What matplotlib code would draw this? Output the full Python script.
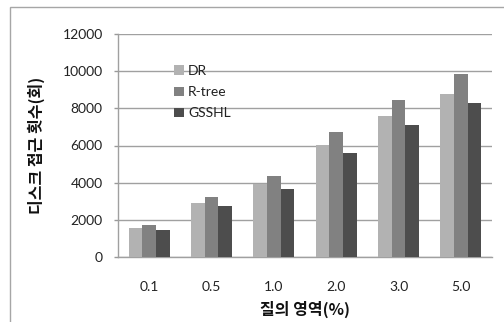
import matplotlib
matplotlib.use("Agg")
import matplotlib.pyplot as plt
import numpy as np
from matplotlib.patches import Rectangle

categories = ["0.1", "0.5", "1.0", "2.0", "3.0", "5.0"]
dr = [1540, 2920, 3930, 6010, 7600, 8770]
rtree = [1720, 3250, 4380, 6730, 8470, 9850]
gsshl = [1470, 2730, 3640, 5610, 7090, 8270]
series_names = ["DR", "R-tree", "GSSHL"]
yticks = [0, 2000, 4000, 6000, 8000, 10000, 12000]
xlabel = "질의 영역(%)"
ylabel = "디스크 접근 횟수(회)"

colors = ["#b2b2b2", "#818181", "#4d4d4d"]
tick_font = ["Lato", "DejaVu Sans"]
kr_font = ["Noto Sans CJK KR", "DejaVu Sans"]

fig = plt.figure(figsize=(5.04, 3.22), dpi=100)
fig.patch.set_facecolor("white")
ax = fig.add_axes([118/504, 1-257/322, 374/504, 223/322])

# outer chart border (extends beyond image right/bottom)
fig.patches.append(Rectangle((10/504, -0.2), 1.2, 1-7/322+0.2, transform=fig.transFigure,
                             fill=False, edgecolor="#a6a6a6", linewidth=1.0))

x = np.arange(len(categories))
w = 0.22
for i, (vals, name, c) in enumerate(zip([dr, rtree, gsshl], series_names, colors)):
    ax.bar(x + (i - 1) * w, vals, width=w, color=c, label=name, zorder=3, linewidth=0)

ax.set_xlim(-0.5, len(categories) - 0.5)
ax.set_ylim(0, 12000)
ax.set_yticks(yticks)
ax.set_yticklabels([str(v) for v in yticks], fontfamily=tick_font, fontsize=10, color="#222222")
ax.set_xticks(x)
ax.set_xticklabels(categories, fontfamily=tick_font, fontsize=10, color="#222222")
ax.tick_params(axis="x", length=0, pad=17)
ax.tick_params(axis="y", length=3, width=1, color="#999999", pad=8)

ax.grid(axis="y", color="#a0a0a0", linewidth=1.0, zorder=0)
ax.set_axisbelow(True)
for s in ["top", "right"]:
    ax.spines[s].set_visible(False)
ax.spines["left"].set_color("#a0a0a0")
ax.spines["bottom"].set_color("#a0a0a0")
ax.spines["left"].set_linewidth(1.0)
ax.spines["bottom"].set_linewidth(1.0)

ax.set_ylabel(ylabel, fontfamily=kr_font, fontsize=11.5, fontweight="bold", color="#111111")
ax.yaxis.set_label_coords(-0.195, 0.5)
ax.set_xlabel(xlabel, fontfamily=kr_font, fontsize=11.5, fontweight="bold", color="#111111")
ax.xaxis.set_label_coords(0.5, -0.195)

leg = ax.legend(loc="upper left", bbox_to_anchor=(0.135, 0.885), frameon=False,
                prop={"family": tick_font, "size": 10}, handlelength=0.7, handleheight=0.7,
                handletextpad=0.3, labelspacing=0.65, borderaxespad=0)
for t in leg.get_texts():
    t.set_color("#222222")

fig.savefig("out.png", dpi=100, facecolor="white")
